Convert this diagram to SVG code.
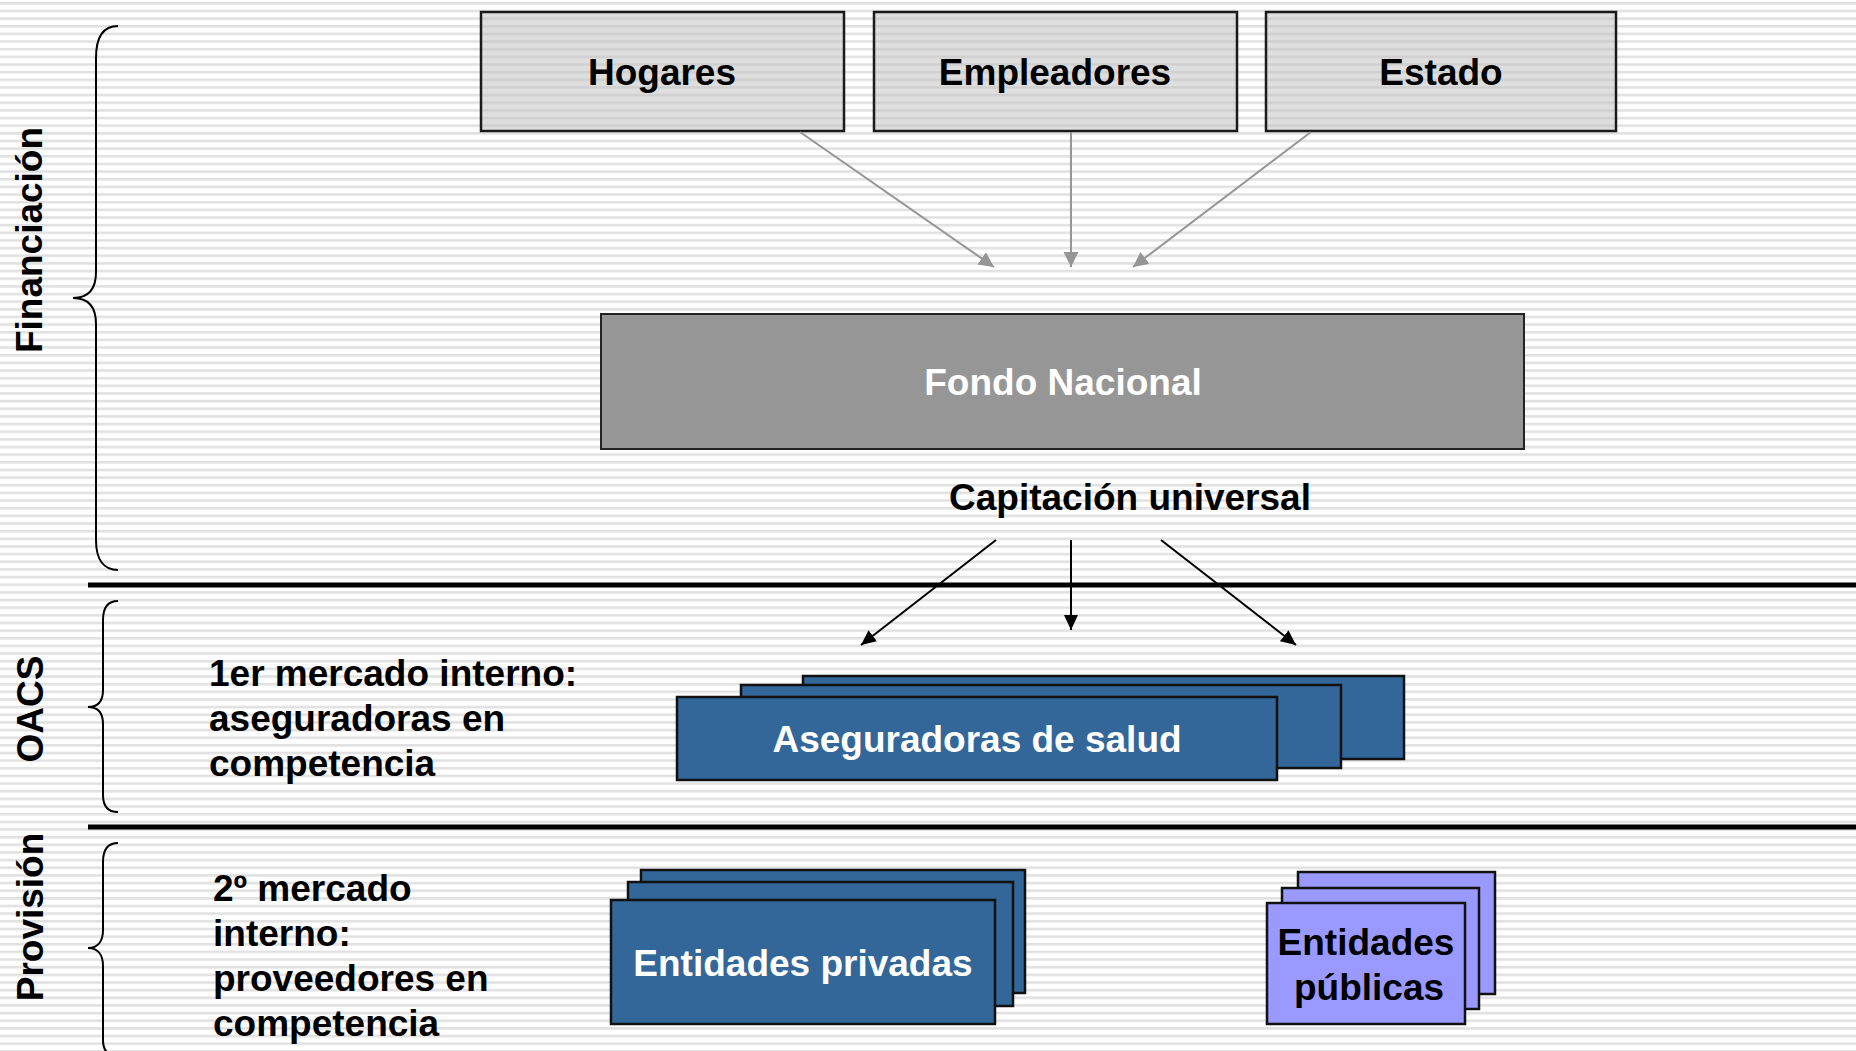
<svg xmlns="http://www.w3.org/2000/svg" width="1856" height="1051" viewBox="0 0 1856 1051">
<defs>
<pattern id="bg" patternUnits="userSpaceOnUse" x="0" y="2" width="40" height="7.65">
<rect width="40" height="7.65" fill="#ffffff"/>
<rect y="0" width="40" height="2.6" fill="#e1e1e1"/>
</pattern>
<pattern id="boxbg" patternUnits="userSpaceOnUse" x="0" y="2" width="40" height="7.65">
<rect width="40" height="7.65" fill="#dedede"/>
<rect y="0" width="40" height="2.6" fill="#d0d0d0"/>
</pattern>
<marker id="ag" markerUnits="userSpaceOnUse" markerWidth="16" markerHeight="16" refX="15" refY="7.5" orient="auto">
<path d="M0,0 L15,7.5 L0,15 z" fill="#959595"/>
</marker>
<marker id="ab" markerUnits="userSpaceOnUse" markerWidth="16" markerHeight="16" refX="15" refY="7" orient="auto">
<path d="M0,0 L15,7 L0,14 z" fill="#000000"/>
</marker>
</defs>
<style>
text{font-family:"Liberation Sans",Arial,sans-serif;font-weight:bold;font-size:37px}
.c{text-anchor:middle}
.w{fill:#ffffff}
.k{fill:#000000}
.src{fill:url(#boxbg);stroke:#1a1a1a;stroke-width:2.5}
.blue{fill:#336699;stroke:#111;stroke-width:2.5}
.pur{fill:#9999ff;stroke:#111;stroke-width:2.5}
.brace{fill:none;stroke:#000;stroke-width:2}
.sep{stroke:#000;stroke-width:5}
</style>
<rect width="1856" height="1051" fill="url(#bg)"/>

<g id="sections">
<line class="sep" x1="88" y1="585" x2="1856" y2="585"/>
<line class="sep" x1="88" y1="827" x2="1856" y2="827"/>
<path class="brace" d="M118,26 C104,26 96,36 96,58 L96,272 C96,290 88,298 73,298 C88,298 96,306 96,324 L96,540 C96,560 104,570 118,570"/>
<path class="brace" d="M118,601 C108,601 103,608 103,620 L103,690 C103,701 98,707 88,707 C98,707 103,713 103,724 L103,795 C103,806 108,812 118,812"/>
<path class="brace" d="M118,843 C108,843 103,850 103,862 L103,930 C103,941 98,948 88,948 C98,948 103,955 103,966 L103,1040 C103,1050 108,1056 118,1056"/>
<text transform="translate(42,240) rotate(-90)" class="c">Financiación</text>
<text transform="translate(43,709) rotate(-90)" class="c">OACS</text>
<text transform="translate(43,917) rotate(-90)" class="c">Provisión</text>
</g>

<g id="hogares">
<rect class="src" x="481" y="12" width="363" height="119"/>
<text class="c" x="662" y="85">Hogares</text>
</g>
<g id="empleadores">
<rect class="src" x="874" y="12" width="363" height="119"/>
<text class="c" x="1055" y="85">Empleadores</text>
</g>
<g id="estado">
<rect class="src" x="1266" y="12" width="350" height="119"/>
<text class="c" x="1441" y="85">Estado</text>
</g>

<g id="fondo-nacional">
<rect x="601" y="314" width="923" height="135" fill="#969696" stroke="#222" stroke-width="2"/>
<text class="c w" x="1063" y="395">Fondo Nacional</text>
</g>

<g id="capitacion">
<text class="c" x="1130" y="510">Capitación universal</text>
</g>

<g id="connectors">
<line x1="800" y1="132" x2="994" y2="267" stroke="#959595" stroke-width="2" marker-end="url(#ag)"/>
<line x1="1071" y1="132" x2="1071" y2="267" stroke="#959595" stroke-width="2" marker-end="url(#ag)"/>
<line x1="1311" y1="132" x2="1133" y2="267" stroke="#959595" stroke-width="2" marker-end="url(#ag)"/>
<line x1="996" y1="540" x2="861" y2="645" stroke="#000" stroke-width="2" marker-end="url(#ab)"/>
<line x1="1071" y1="540" x2="1071" y2="630" stroke="#000" stroke-width="2" marker-end="url(#ab)"/>
<line x1="1161" y1="540" x2="1296" y2="645" stroke="#000" stroke-width="2" marker-end="url(#ab)"/>
</g>

<g id="label-1er-mercado">
<text x="209" y="686">1er mercado interno:</text>
<text x="209" y="731">aseguradoras en</text>
<text x="209" y="776">competencia</text>
</g>

<g id="aseguradoras">
<rect class="blue" x="803" y="676" width="601" height="83"/>
<rect class="blue" x="741" y="685" width="600" height="83"/>
<rect class="blue" x="677" y="697" width="600" height="83"/>
<text class="c w" x="977" y="752">Aseguradoras de salud</text>
</g>

<g id="label-2o-mercado">
<text x="213" y="901">2º mercado</text>
<text x="213" y="946">interno:</text>
<text x="213" y="991">proveedores en</text>
<text x="213" y="1036">competencia</text>
</g>

<g id="entidades-privadas">
<rect class="blue" x="641" y="870" width="384" height="123"/>
<rect class="blue" x="628" y="882" width="385" height="124"/>
<rect class="blue" x="611" y="900" width="384" height="124"/>
<text class="c w" x="803" y="976">Entidades privadas</text>
</g>

<g id="entidades-publicas">
<rect class="pur" x="1298" y="872" width="197" height="122"/>
<rect class="pur" x="1282" y="888" width="197" height="121"/>
<rect class="pur" x="1267" y="903" width="198" height="121"/>
<text class="c k" x="1366" y="955">Entidades</text>
<text class="c k" x="1369" y="1000">públicas</text>
</g>
</svg>
